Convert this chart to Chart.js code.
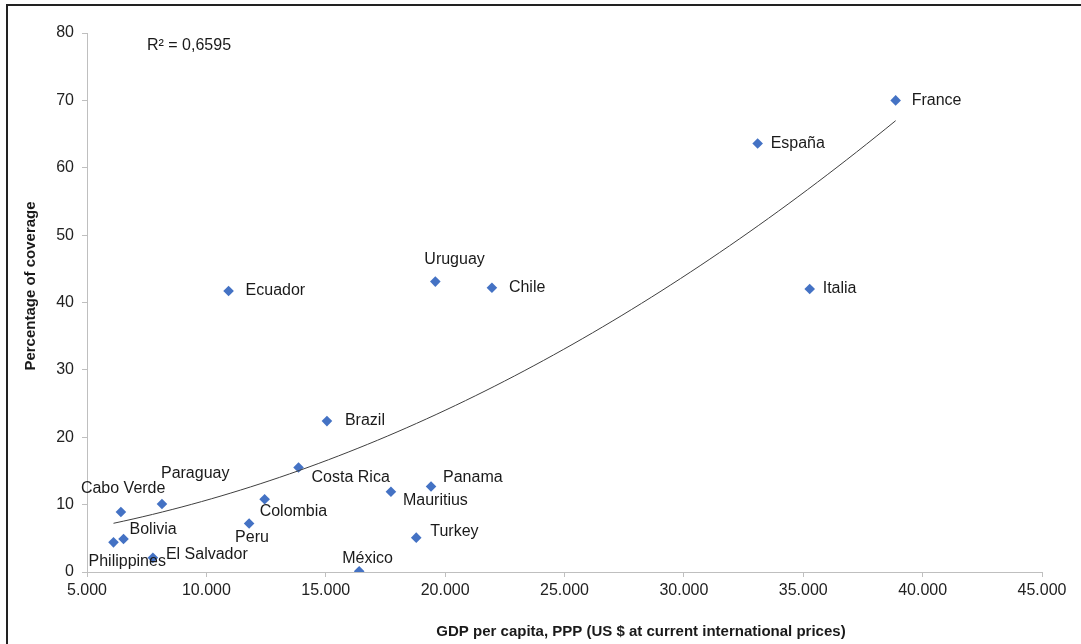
<!DOCTYPE html>
<html>
<head>
<meta charset="utf-8">
<script src="https://cdn.jsdelivr.net/npm/chart.js@4/dist/chart.umd.min.js"></script>
<style>
  html, body { margin: 0; padding: 0; background: #ffffff; }
  #c { display: block; }
</style>
</head>
<body>
<canvas id="c" width="1081" height="644"></canvas>
<script>
// Coverage versus GDP per capita, by country
const countries = ['France', 'España', 'Italia', 'Chile', 'Uruguay', 'Ecuador', 'Brazil',
  'Costa Rica', 'Paraguay', 'Cabo Verde', 'Bolivia', 'Philippines', 'El Salvador',
  'Colombia', 'Peru', 'México', 'Mauritius', 'Panama', 'Turkey'];
const gdpPerCapita = [38870, 33090, 35270, 21960, 19590, 10930, 15050,
  13860, 8140, 6420, 6530, 6110, 7760,
  12440, 11790, 16400, 17730, 19410, 18790];
const coverage = [70.0, 63.6, 42.0, 42.2, 43.1, 41.7, 22.4,
  15.5, 10.1, 8.9, 4.9, 4.4, 2.1,
  10.8, 7.2, 0.1, 11.9, 12.7, 5.1];
const xTickValues = [5000, 10000, 15000, 20000, 25000, 30000, 35000, 40000, 45000];
const yTickValues = [0, 10, 20, 30, 40, 50, 60, 70, 80];
const rSquaredText = 'R\u00B2 = 0,6595';
const xTitle = 'GDP per capita, PPP (US $ at current international prices)';
const yTitle = 'Percentage of coverage';

// Where each country name sits relative to its marker (dx, dy in px)
const labelOffset = {
  'France': [16, 0], 'España': [13, 0], 'Italia': [13, 0], 'Chile': [17, 0],
  'Uruguay': [-11, -22], 'Ecuador': [17, 0], 'Brazil': [18, 0],
  'Costa Rica': [13, 10], 'Paraguay': [-1, -30], 'Cabo Verde': [-40, -23],
  'Bolivia': [6, -9], 'Philippines': [-25, 19], 'El Salvador': [13, -3],
  'Colombia': [-5, 12], 'Peru': [-14, 14], 'México': [-17, -13],
  'Mauritius': [12, 9], 'Panama': [12, -9], 'Turkey': [14, -6]
};

const FONT = "'Liberation Sans', Arial, Helvetica, sans-serif";

// Thousands separator with a dot
function fmtThousands(v) {
  return String(Math.round(v)).replace(/\B(?=(\d{3})+(?!\d))/g, '.');
}

// Second-order polynomial least-squares trend
function quadraticFit(xs, ys) {
  const s = [0, 0, 0, 0, 0], t = [0, 0, 0];
  for (let i = 0; i < xs.length; i++) {
    const x = xs[i] / 1000, y = ys[i];
    let p = 1;
    for (let k = 0; k < 5; k++) { s[k] += p; if (k < 3) t[k] += p * y; p *= x; }
  }
  const A = [[s[0], s[1], s[2], t[0]], [s[1], s[2], s[3], t[1]], [s[2], s[3], s[4], t[2]]];
  for (let i = 0; i < 3; i++) {
    for (let j = i + 1; j < 3; j++) {
      const f = A[j][i] / A[i][i];
      for (let k = i; k < 4; k++) A[j][k] -= f * A[i][k];
    }
  }
  const c = [0, 0, 0];
  for (let i = 2; i >= 0; i--) {
    let v = A[i][3];
    for (let k = i + 1; k < 3; k++) v -= A[i][k] * c[k];
    c[i] = v / A[i][i];
  }
  return x => { const u = x / 1000; return c[0] + c[1] * u + c[2] * u * u; };
}

const trend = quadraticFit(gdpPerCapita, coverage);
const xMin = Math.min(...gdpPerCapita), xMax = Math.max(...gdpPerCapita);
const trendPoints = [];
for (let i = 0; i <= 80; i++) {
  const x = xMin + (xMax - xMin) * i / 80;
  trendPoints.push({ x: x, y: trend(x) });
}

const points = gdpPerCapita.map((g, i) => ({ x: g, y: coverage[i] }));

const decorations = {
  id: 'decorations',
  afterDatasetsDraw(chart) {
    const ctx = chart.ctx;
    const meta = chart.getDatasetMeta(1);
    ctx.save();
    ctx.fillStyle = '#1a1a1a';
    ctx.font = '16px ' + FONT;
    ctx.textAlign = 'left';
    ctx.textBaseline = 'middle';
    meta.data.forEach((pt, i) => {
      const name = countries[i];
      const off = labelOffset[name] || [12, 0];
      ctx.fillText(name, pt.x + off[0], pt.y + off[1]);
    });
    // R-squared of the trend
    ctx.fillText(rSquaredText, 147, 46);
    // Axis titles
    ctx.font = 'bold 15px ' + FONT;
    ctx.textAlign = 'center';
    ctx.fillText(xTitle, 641, 632);
    ctx.translate(31, 286);
    ctx.rotate(-Math.PI / 2);
    ctx.fillText(yTitle, 0, 0);
    ctx.restore();
    // Outer frame
    ctx.save();
    ctx.strokeStyle = '#222222';
    ctx.lineWidth = 2;
    ctx.beginPath();
    ctx.moveTo(7, 700);
    ctx.lineTo(7, 5);
    ctx.lineTo(1100, 5);
    ctx.stroke();
    ctx.restore();
  }
};

const axisColor = '#BFBFBF';

new Chart(document.getElementById('c'), {
  type: 'scatter',
  data: {
    datasets: [
      {
        type: 'line',
        data: trendPoints,
        borderColor: '#3f3f3f',
        borderWidth: 1,
        pointRadius: 0,
        tension: 0,
        fill: false
      },
      {
        data: points,
        backgroundColor: '#4472C4',
        borderColor: '#4472C4',
        borderWidth: 0,
        pointStyle: 'rectRot',
        pointRadius: 5.3,
        pointHoverRadius: 5.3
      }
    ]
  },
  options: {
    responsive: false,
    animation: false,
    events: [],
    layout: { padding: { top: 33, right: 39, left: 0, bottom: 0 } },
    plugins: { legend: { display: false }, tooltip: { enabled: false } },
    scales: {
      x: {
        type: 'linear',
        min: xTickValues[0],
        max: xTickValues[xTickValues.length - 1],
        afterBuildTicks: s => { s.ticks = xTickValues.map(v => ({ value: v })); },
        afterFit: s => { s.height = 72; },
        ticks: {
          callback: v => fmtThousands(v),
          color: '#222222',
          font: { size: 16, family: FONT },
          padding: 4,
          maxRotation: 0,
          autoSkip: false
        },
        grid: { drawOnChartArea: false, drawTicks: true, tickLength: 5, color: axisColor },
        border: { display: true, color: axisColor, width: 1 }
      },
      y: {
        type: 'linear',
        min: yTickValues[0],
        max: yTickValues[yTickValues.length - 1],
        afterBuildTicks: s => { s.ticks = yTickValues.map(v => ({ value: v })); },
        afterFit: s => { s.width = 87; },
        ticks: {
          color: '#222222',
          font: { size: 16, family: FONT },
          padding: 8
        },
        grid: { drawOnChartArea: false, drawTicks: true, tickLength: 5, color: axisColor },
        border: { display: true, color: axisColor, width: 1 }
      }
    }
  },
  plugins: [decorations]
});
</script>
</body>
</html>
